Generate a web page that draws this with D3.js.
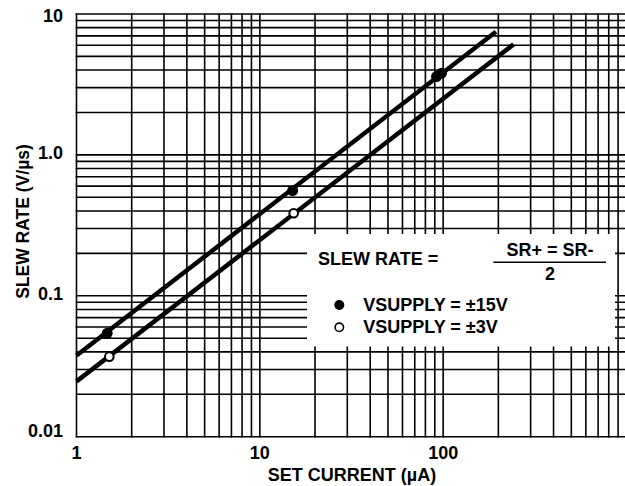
<!DOCTYPE html>
<html>
<head>
<meta charset="utf-8">
<script src="https://cdn.jsdelivr.net/npm/d3@7"></script>
<style>
  html, body { margin: 0; padding: 0; background: #fff; }
  svg { display: block; }
  text { font-family: "Liberation Sans", Arial, Helvetica, sans-serif; font-weight: bold; fill: #000; }
</style>
</head>
<body>
<svg id="chart" width="625" height="486"></svg>
<script>
// ---- data ----
const xTickValues = [1, 10, 100];
const xTickLabels = ["1", "10", "100"];
const yTickValues = [0.01, 0.1, 1, 10];
const yTickLabels = ["0.01", "0.1", "1.0", "10"];

// fitted lines (endpoints)
const line15X = [1, 194];
const line15Y = [0.0377, 7.48];
const line3X = [1, 242];
const line3Y = [0.0247, 6.09];

// measured points
const pts15X = [1.47, 15.1, 92, 98];
const pts15Y = [0.0542, 0.557, 3.6, 3.8];
const pts3X = [1.51, 15.3];
const pts3Y = [0.037, 0.385];

const xTitle = "SET CURRENT (\u00B5A)";
const yTitle = "SLEW RATE (V/\u00B5s)";
const legendFormulaLeft = "SLEW RATE =";
const legendFormulaNum = "SR+ = SR-";
const legendFormulaDen = "2";
const legendLabels = ["VSUPPLY = \u00B115V", "VSUPPLY = \u00B13V"];

// ---- layout ----
const svg = d3.select("#chart");
const x = d3.scaleLog().domain([1, 1000]).range([76.5, 626.5]);
const y = d3.scaleLog().domain([0.01, 10]).range([436.7, 14]);

// grid values 1..9 per decade
const xGrid = [];
for (let k = 0; k < 3; k++) for (let n = 1; n <= 9; n++) xGrid.push(n * Math.pow(10, k));
xGrid.push(1000);
const yGrid = [];
for (let k = -2; k < 1; k++) for (let n = 1; n <= 9; n++) yGrid.push(+(n * Math.pow(10, k)).toPrecision(3));
yGrid.push(10);

const gridG = svg.append("g").attr("stroke", "#000").attr("stroke-width", 1.6);
gridG.selectAll("line.v").data(xGrid).join("line").attr("class", "v")
  .attr("x1", d => x(d)).attr("x2", d => x(d))
  .attr("y1", y(10) - 0.8).attr("y2", y(0.01) + 0.8);
gridG.selectAll("line.h").data(yGrid).join("line").attr("class", "h")
  .attr("y1", d => y(d)).attr("y2", d => y(d))
  .attr("x1", x(1) - 0.8).attr("x2", x(1000));

// legend box (white, covers grid)
const box = { x0: 307, x1: 615, y0: 234, y1: 346.5 };
svg.append("rect").attr("x", box.x0).attr("y", box.y0)
  .attr("width", box.x1 - box.x0).attr("height", box.y1 - box.y0)
  .attr("fill", "#fff");

// data lines
const lineGen = d3.line().x(d => x(d[0])).y(d => y(d[1]));
svg.append("path").datum(d3.zip(line15X, line15Y)).attr("d", lineGen)
  .attr("fill", "none").attr("stroke", "#000").attr("stroke-width", 4.5);
svg.append("path").datum(d3.zip(line3X, line3Y)).attr("d", lineGen)
  .attr("fill", "none").attr("stroke", "#000").attr("stroke-width", 4.5);

// points
svg.append("g").selectAll("circle").data(d3.zip(pts15X, pts15Y)).join("circle")
  .attr("cx", d => x(d[0])).attr("cy", d => y(d[1])).attr("r", 5.5).attr("fill", "#000");
svg.append("g").selectAll("circle").data(d3.zip(pts3X, pts3Y)).join("circle")
  .attr("cx", d => x(d[0])).attr("cy", d => y(d[1])).attr("r", 4.3)
  .attr("fill", "#fff").attr("stroke", "#000").attr("stroke-width", 2);

// tick labels
svg.append("g").selectAll("text").data(xTickValues).join("text")
  .attr("x", d => x(d)).attr("y", 459).attr("text-anchor", "middle")
  .attr("font-size", 18).text((d, i) => xTickLabels[i]);
svg.append("g").selectAll("text").data(yTickValues).join("text")
  .attr("x", 63).attr("y", d => Math.min(Math.max(y(d) + 4, 22), 437))
  .attr("text-anchor", "end").attr("font-size", 18).text((d, i) => yTickLabels[i]);

// axis titles
svg.append("text").attr("x", 352).attr("y", 481).attr("text-anchor", "middle")
  .attr("font-size", 18).text(xTitle);
svg.append("text").attr("transform", "translate(28.5,221.5) rotate(-90)")
  .attr("text-anchor", "middle").attr("font-size", 17.5).text(yTitle);

// legend content
svg.append("text").attr("x", 318).attr("y", 265).attr("font-size", 18).text(legendFormulaLeft);
svg.append("text").attr("x", 550).attr("y", 256).attr("text-anchor", "middle").attr("font-size", 18).text(legendFormulaNum);
svg.append("line").attr("x1", 493.3).attr("x2", 606).attr("y1", 262.3).attr("y2", 262.3)
  .attr("stroke", "#000").attr("stroke-width", 1.6);
svg.append("text").attr("x", 550).attr("y", 279.5).attr("text-anchor", "middle").attr("font-size", 18).text(legendFormulaDen);

svg.append("circle").attr("cx", 339.3).attr("cy", 305).attr("r", 5).attr("fill", "#000");
svg.append("circle").attr("cx", 339.3).attr("cy", 327.3).attr("r", 4.2)
  .attr("fill", "#fff").attr("stroke", "#000").attr("stroke-width", 1.6);
svg.append("text").attr("x", 363.3).attr("y", 310.5).attr("font-size", 18).text(legendLabels[0]);
svg.append("text").attr("x", 363.3).attr("y", 333).attr("font-size", 18).text(legendLabels[1]);
</script>
</body>
</html>
